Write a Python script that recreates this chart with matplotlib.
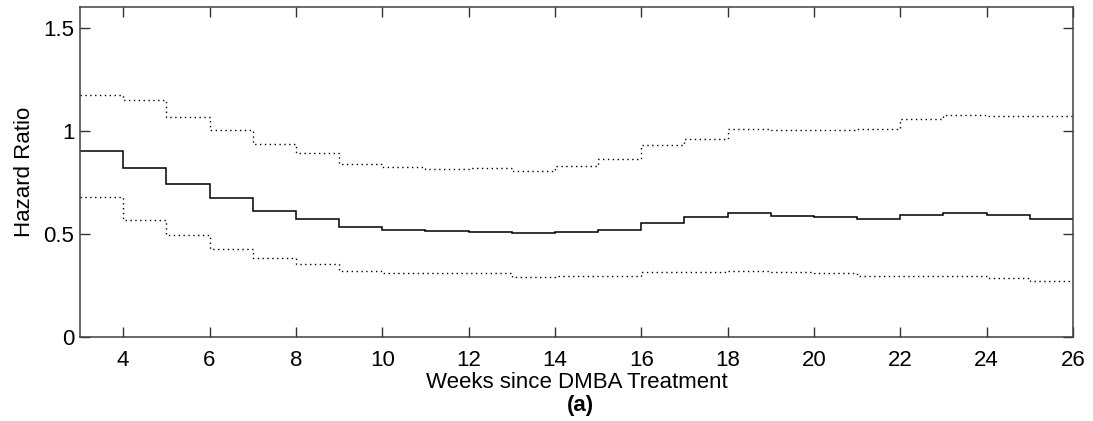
import matplotlib as mpl
mpl.use('Agg')
import matplotlib.pyplot as plt
import numpy as np

plt.rcParams['font.family'] = ['Liberation Sans', 'DejaVu Sans']

# week edges of the step functions
weeks = np.arange(3, 27)

hr = [0.90, 0.82, 0.74, 0.674, 0.611, 0.574, 0.534, 0.518, 0.513, 0.510, 0.502,
      0.510, 0.519, 0.553, 0.581, 0.600, 0.587, 0.581, 0.574, 0.590, 0.600,
      0.590, 0.574]
hr_upper = [1.171, 1.147, 1.069, 1.003, 0.934, 0.890, 0.840, 0.822, 0.814, 0.821,
            0.803, 0.827, 0.863, 0.930, 0.961, 1.008, 1.005, 1.005, 1.008, 1.056,
            1.077, 1.072, 1.071]
hr_lower = [0.679, 0.569, 0.495, 0.429, 0.384, 0.355, 0.321, 0.308, 0.308, 0.308,
            0.289, 0.295, 0.295, 0.313, 0.316, 0.321, 0.314, 0.308, 0.295, 0.295,
            0.295, 0.285, 0.271]

fig = plt.figure(figsize=(10.93, 4.21), dpi=100)
ax = fig.add_axes([0.0732, 0.1995, 0.9085, 0.7839])

ax.stairs(hr, weeks, color='black', linewidth=1.1, baseline=None)
ax.stairs(hr_upper, weeks, color='black', linewidth=1.0, linestyle=(0, (1, 2.5)), baseline=None)
ax.stairs(hr_lower, weeks, color='black', linewidth=1.0, linestyle=(0, (1, 2.5)), baseline=None)

ax.set_xlim(3, 26)
ax.set_ylim(0, 1.6)
ax.set_xticks(np.arange(4, 27, 2))
ax.set_yticks([0, 0.5, 1, 1.5])
ax.set_yticklabels(['0', '0.5', '1', '1.5'])
ax.tick_params(direction='in', length=7, width=1, top=True, right=True,
               labelsize=16, colors='#333333', labelcolor='black', pad=4)
ax.tick_params(axis='x', pad=9)
for s in ax.spines.values():
    s.set_color('#404040')
    s.set_linewidth(1.1)

ax.set_xlabel('Weeks since DMBA Treatment', fontsize=16, labelpad=1)
ax.set_ylabel('Hazard Ratio', fontsize=16, labelpad=6)
fig.text(0.531, 0.038, '(a)', fontsize=16, fontweight='bold', ha='center', va='center')

fig.savefig('out.png', dpi=100)
